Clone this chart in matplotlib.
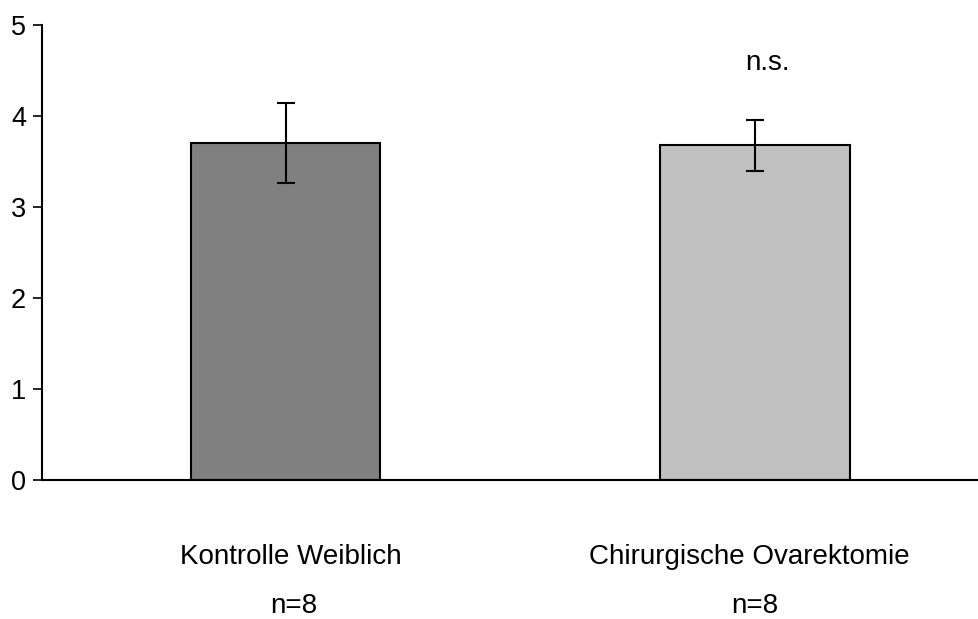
import numpy as np
import matplotlib.pyplot as plt

plt.rcParams['font.family'] = ['Liberation Sans', 'DejaVu Sans']

groups = ["Kontrolle Weiblich", "Chirurgische Ovarektomie"]
n_labels = ["n=8", "n=8"]
means = [3.70, 3.68]
sem = [0.44, 0.28]
colors = ["#808080", "#c0c0c0"]

fig = plt.figure(figsize=(9.79, 6.19), dpi=100)
ax = fig.add_axes([42 / 979, 139 / 619, 937 / 979, 455 / 619])

x = np.arange(len(groups))
ax.bar(x, means, width=0.403, color=colors, edgecolor="black", linewidth=1.5, zorder=2)
ax.errorbar(x, means, yerr=sem, fmt="none", ecolor="black", elinewidth=1.5,
            capsize=6.5, capthick=1.5, zorder=3)

ax.set_xlim(-0.519, 1.477)
ax.set_ylim(0, 5)
ax.set_yticks(range(0, 6))
ax.tick_params(axis="y", direction="out", length=6.5, width=1.2, labelsize=19.5, pad=5)
ax.set_xticks([])
for side in ["top", "right"]:
    ax.spines[side].set_visible(False)
ax.spines["left"].set_linewidth(1.5)
ax.spines["bottom"].set_linewidth(1.5)

# group names and sample sizes below the axis
for i, (g, n) in enumerate(zip(groups, n_labels)):
    ax.text(i + 0.012 * (1 - 2 * i), -0.92, g, ha="center", va="baseline", fontsize=20,
            clip_on=False)
    ax.text(i + 0.017 * (1 - i), -1.46, n, ha="center", va="baseline", fontsize=20,
            clip_on=False)

ax.text(1.027, 4.51, "n.s.", ha="center", va="baseline", fontsize=20)

fig.savefig("out.png", dpi=100)
